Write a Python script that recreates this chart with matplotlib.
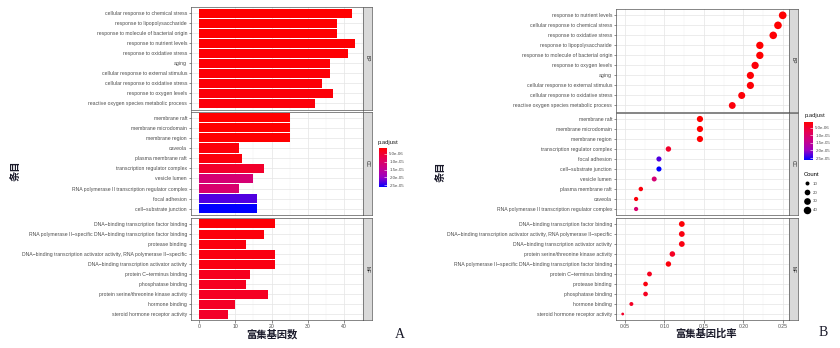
import matplotlib
matplotlib.use("Agg")
import matplotlib.pyplot as plt
import numpy as np
from matplotlib.colors import LinearSegmentedColormap, Normalize
from matplotlib.cm import ScalarMappable
from matplotlib.lines import Line2D

W, H, DPI = 840, 348, 100

plt.rcParams['font.family'] = ['Liberation Sans', 'DejaVu Sans']

# --- data (order as in panel A, top to bottom) ---
facets = ["BP", "CC", "MF"]

bp_terms = ["cellular response to chemical stress", "response to lipopolysaccharide",
            "response to molecule of bacterial origin", "response to nutrient levels",
            "response to oxidative stress", "aging", "cellular response to external stimulus",
            "cellular response to oxidative stress", "response to oxygen levels",
            "reactive oxygen species metabolic process"]
bp_count = [42, 38, 38, 43, 41, 36, 36, 34, 37, 32]
bp_ratio = [0.244, 0.221, 0.221, 0.250, 0.238, 0.209, 0.209, 0.198, 0.215, 0.186]
bp_padj = [1.0e-6, 1.1e-6, 1.1e-6, 1.2e-6, 1.3e-6, 1.4e-6, 1.5e-6, 1.6e-6, 1.7e-6, 1.9e-6]

cc_terms = ["membrane raft", "membrane microdomain", "membrane region", "caveola",
            "plasma membrane raft", "transcription regulator complex", "vesicle lumen",
            "RNA polymerase II transcription regulator complex", "focal adhesion",
            "cell\u2212substrate junction"]
cc_count = [25, 25, 25, 11, 12, 18, 15, 11, 16, 16]
cc_ratio = [0.145, 0.145, 0.145, 0.064, 0.070, 0.105, 0.087, 0.064, 0.093, 0.093]
cc_padj = [1.0e-6, 1.0e-6, 1.1e-6, 1.8e-6, 2.0e-6, 4.5e-6, 1.12e-5, 1.06e-5, 2.3e-5, 2.63e-5]

mf_terms = ["DNA\u2212binding transcription factor binding",
            "RNA polymerase II\u2212specific DNA\u2212binding transcription factor binding",
            "protease binding",
            "DNA\u2212binding transcription activator activity, RNA polymerase II\u2212specific",
            "DNA\u2212binding transcription activator activity", "protein C\u2212terminus binding",
            "phosphatase binding", "protein serine/threonine kinase activity",
            "hormone binding", "steroid hormone receptor activity"]
mf_count = [21, 18, 13, 21, 21, 14, 13, 19, 10, 8]
mf_ratio = [0.122, 0.105, 0.076, 0.122, 0.122, 0.081, 0.076, 0.110, 0.058, 0.047]
mf_padj = [1.5e-6, 1.9e-6, 2.1e-6, 2.3e-6, 2.4e-6, 3.4e-6, 3.6e-6, 3.8e-6, 4.0e-6, 4.3e-6]

padj_ticks = [5e-6, 1e-5, 1.5e-5, 2e-5, 2.5e-5]
count_breaks = [10, 20, 30, 40]

groups = {
    "BP": (bp_terms, bp_count, bp_ratio, bp_padj),
    "CC": (cc_terms, cc_count, cc_ratio, cc_padj),
    "MF": (mf_terms, mf_count, mf_ratio, mf_padj),
}

# --- style ---
CMAP = LinearSegmentedColormap.from_list(
    "padj", [(0, "#FF0000"), (0.25, "#E8004F"), (0.5, "#C90089"), (0.75, "#9A00C3"), (1, "#0000FF")])
all_p = bp_padj + cc_padj + mf_padj
all_c = bp_count + cc_count + mf_count
NORM = Normalize(vmin=min(all_p), vmax=max(all_p))
CMIN, CMAX = min(all_c), max(all_c)

TXT = "#4D4D4D"
CJK = ['Noto Sans CJK SC', 'DejaVu Sans']


def dot_diam(c):
    # ggplot-like area scale, diameter in points
    t = (np.asarray(c, float) - CMIN) / (CMAX - CMIN)
    return 0.72 * (2.8 + 4.9 * np.sqrt(t))


def px_axes(fig, x0, y0, x1, y1):
    return fig.add_axes([x0 / W, 1 - y1 / H, (x1 - x0) / W, (y1 - y0) / H])


def style_panel(ax, n, bottom):
    ax.set_ylim(n - 0.4, -0.6)
    for s in ax.spines.values():
        s.set_color("#555555")
        s.set_linewidth(0.5)
    ax.tick_params(axis="both", which="major", labelsize=3.7, labelcolor=TXT,
                   color="#333333", length=1.8, width=0.4, pad=1)
    ax.tick_params(axis="both", which="minor", length=0)
    ax.grid(True, which="major", color="#E5E5E5", lw=0.5)
    ax.grid(True, which="minor", axis="x", color="#F0F0F0", lw=0.3)
    ax.set_axisbelow(True)
    if not bottom:
        ax.tick_params(axis="x", which="both", bottom=False, labelbottom=False)


def strip(fig, x0, y0, x1, y1, label):
    sax = px_axes(fig, x0, y0, x1, y1)
    sax.set_facecolor("#D9D9D9")
    sax.set_xticks([])
    sax.set_yticks([])
    for s in sax.spines.values():
        s.set_color("#555555")
        s.set_linewidth(0.5)
    sax.text(0.5, 0.5, label, rotation=-90, ha="center", va="center",
             fontsize=3.5, color="#1A1A1A", transform=sax.transAxes)


def colorbar(fig, x0, y0, x1, y1):
    cax = px_axes(fig, x0, y0, x1, y1)
    cb = fig.colorbar(ScalarMappable(norm=NORM, cmap=CMAP), cax=cax)
    cb.set_ticks(padj_ticks)
    cb.set_ticklabels(["%.1e" % v for v in padj_ticks])
    cb.outline.set_visible(False)
    cax.invert_yaxis()
    cax.tick_params(labelsize=3.2, labelcolor=TXT, color="white", length=2, width=0.4,
                    direction="in", pad=1.5)
    return cax


fig = plt.figure(figsize=(W / DPI, H / DPI), dpi=DPI)
fig.patch.set_facecolor("white")

rows_a = [(7.3, 109.5), (111.5, 215), (218, 320)]
rows_b = [(9.3, 111.5), (113, 215), (218, 320)]

# --- Panel A: bar chart ---
for i, f in enumerate(facets):
    terms, count, ratio, padj = groups[f]
    y0, y1 = rows_a[i]
    ax = px_axes(fig, 191, y0, 363, y1)
    y = np.arange(len(terms))
    ax.barh(y, count, height=0.9, color=CMAP(NORM(np.array(padj))), zorder=2)
    ax.set_yticks(y)
    ax.set_yticklabels(terms)
    ax.set_xlim(-2.15, 45.15)
    ax.set_xticks([0, 10, 20, 30, 40])
    ax.set_xticks([5, 15, 25, 35, 45], minor=True)
    style_panel(ax, len(terms), i == 2)
    strip(fig, 363, y0, 372, y1, f)

colorbar(fig, 378.7, 147.7, 387.3, 187.3)
fig.text(378 / W, 1 - 142.5 / H, "p.adjust", fontsize=4.2, color="#1A1A1A", ha="left", va="center")

fig.text(272 / W, 1 - 334 / H, "富集基因数", fontsize=7.4, family=CJK, weight="bold",
         color="#1A1A2A", ha="center", va="center")
fig.text(16 / W, 1 - 171 / H, "条目", fontsize=7.4, family=CJK, weight="bold",
         color="#1A1A2A", rotation=90, ha="center", va="center")
fig.text(400 / W, 1 - 334 / H, "A", fontsize=10, family="Liberation Serif",
         color="#1A1A2A", ha="center", va="center")

# --- Panel B: dot plot, sorted by gene ratio ---
for i, f in enumerate(facets):
    terms, count, ratio, padj = groups[f]
    order = sorted(range(len(terms)), key=lambda k: -ratio[k])
    t = [terms[k] for k in order]
    c = [count[k] for k in order]
    r = [ratio[k] for k in order]
    p = [padj[k] for k in order]
    y0, y1 = rows_b[i]
    ax = px_axes(fig, 616, y0, 789, y1)
    y = np.arange(len(t))
    ax.scatter(r, y, s=dot_diam(c) ** 2, c=p, cmap=CMAP, norm=NORM,
               edgecolors="none", zorder=3)
    ax.set_yticks(y)
    ax.set_yticklabels(t)
    ax.set_xlim(0.0385, 0.258)
    ax.set_xticks([0.05, 0.10, 0.15, 0.20, 0.25])
    ax.set_xticks([0.075, 0.125, 0.175, 0.225], minor=True)
    ax.xaxis.set_major_formatter(matplotlib.ticker.FormatStrFormatter("%.2f"))
    style_panel(ax, len(t), i == 2)
    strip(fig, 789, y0, 798, y1, f)

colorbar(fig, 804, 121.7, 813.3, 160)
fig.text(804.5 / W, 1 - 116 / H, "p.adjust", fontsize=4.2, color="#1A1A1A", ha="left", va="center")

handles = [Line2D([], [], ls="none", marker="o", color="black", markeredgewidth=0,
                  markersize=float(dot_diam(v))) for v in count_breaks]
leg = fig.legend(handles, [str(v) for v in count_breaks], title="Count",
                 loc="upper left", bbox_to_anchor=(801 / W, 1 - 169 / H),
                 frameon=False, fontsize=3.2, title_fontsize=4.2, labelspacing=1.05,
                 handlelength=1.4, handletextpad=0.6, borderpad=0.2)
leg._legend_box.align = "left"
for tx in leg.get_texts():
    tx.set_color(TXT)

fig.text(706 / W, 1 - 334 / H, "富集基因比率", fontsize=7.4, family=CJK, weight="bold",
         color="#1A1A2A", ha="center", va="center")
fig.text(441 / W, 1 - 172 / H, "条目", fontsize=7.4, family=CJK, weight="bold",
         color="#1A1A2A", rotation=90, ha="center", va="center")
fig.text(823 / W, 1 - 333 / H, "B", fontsize=10, family="Liberation Serif",
         color="#1A1A2A", ha="center", va="center")

fig.savefig("out.png", dpi=DPI, facecolor="white")
